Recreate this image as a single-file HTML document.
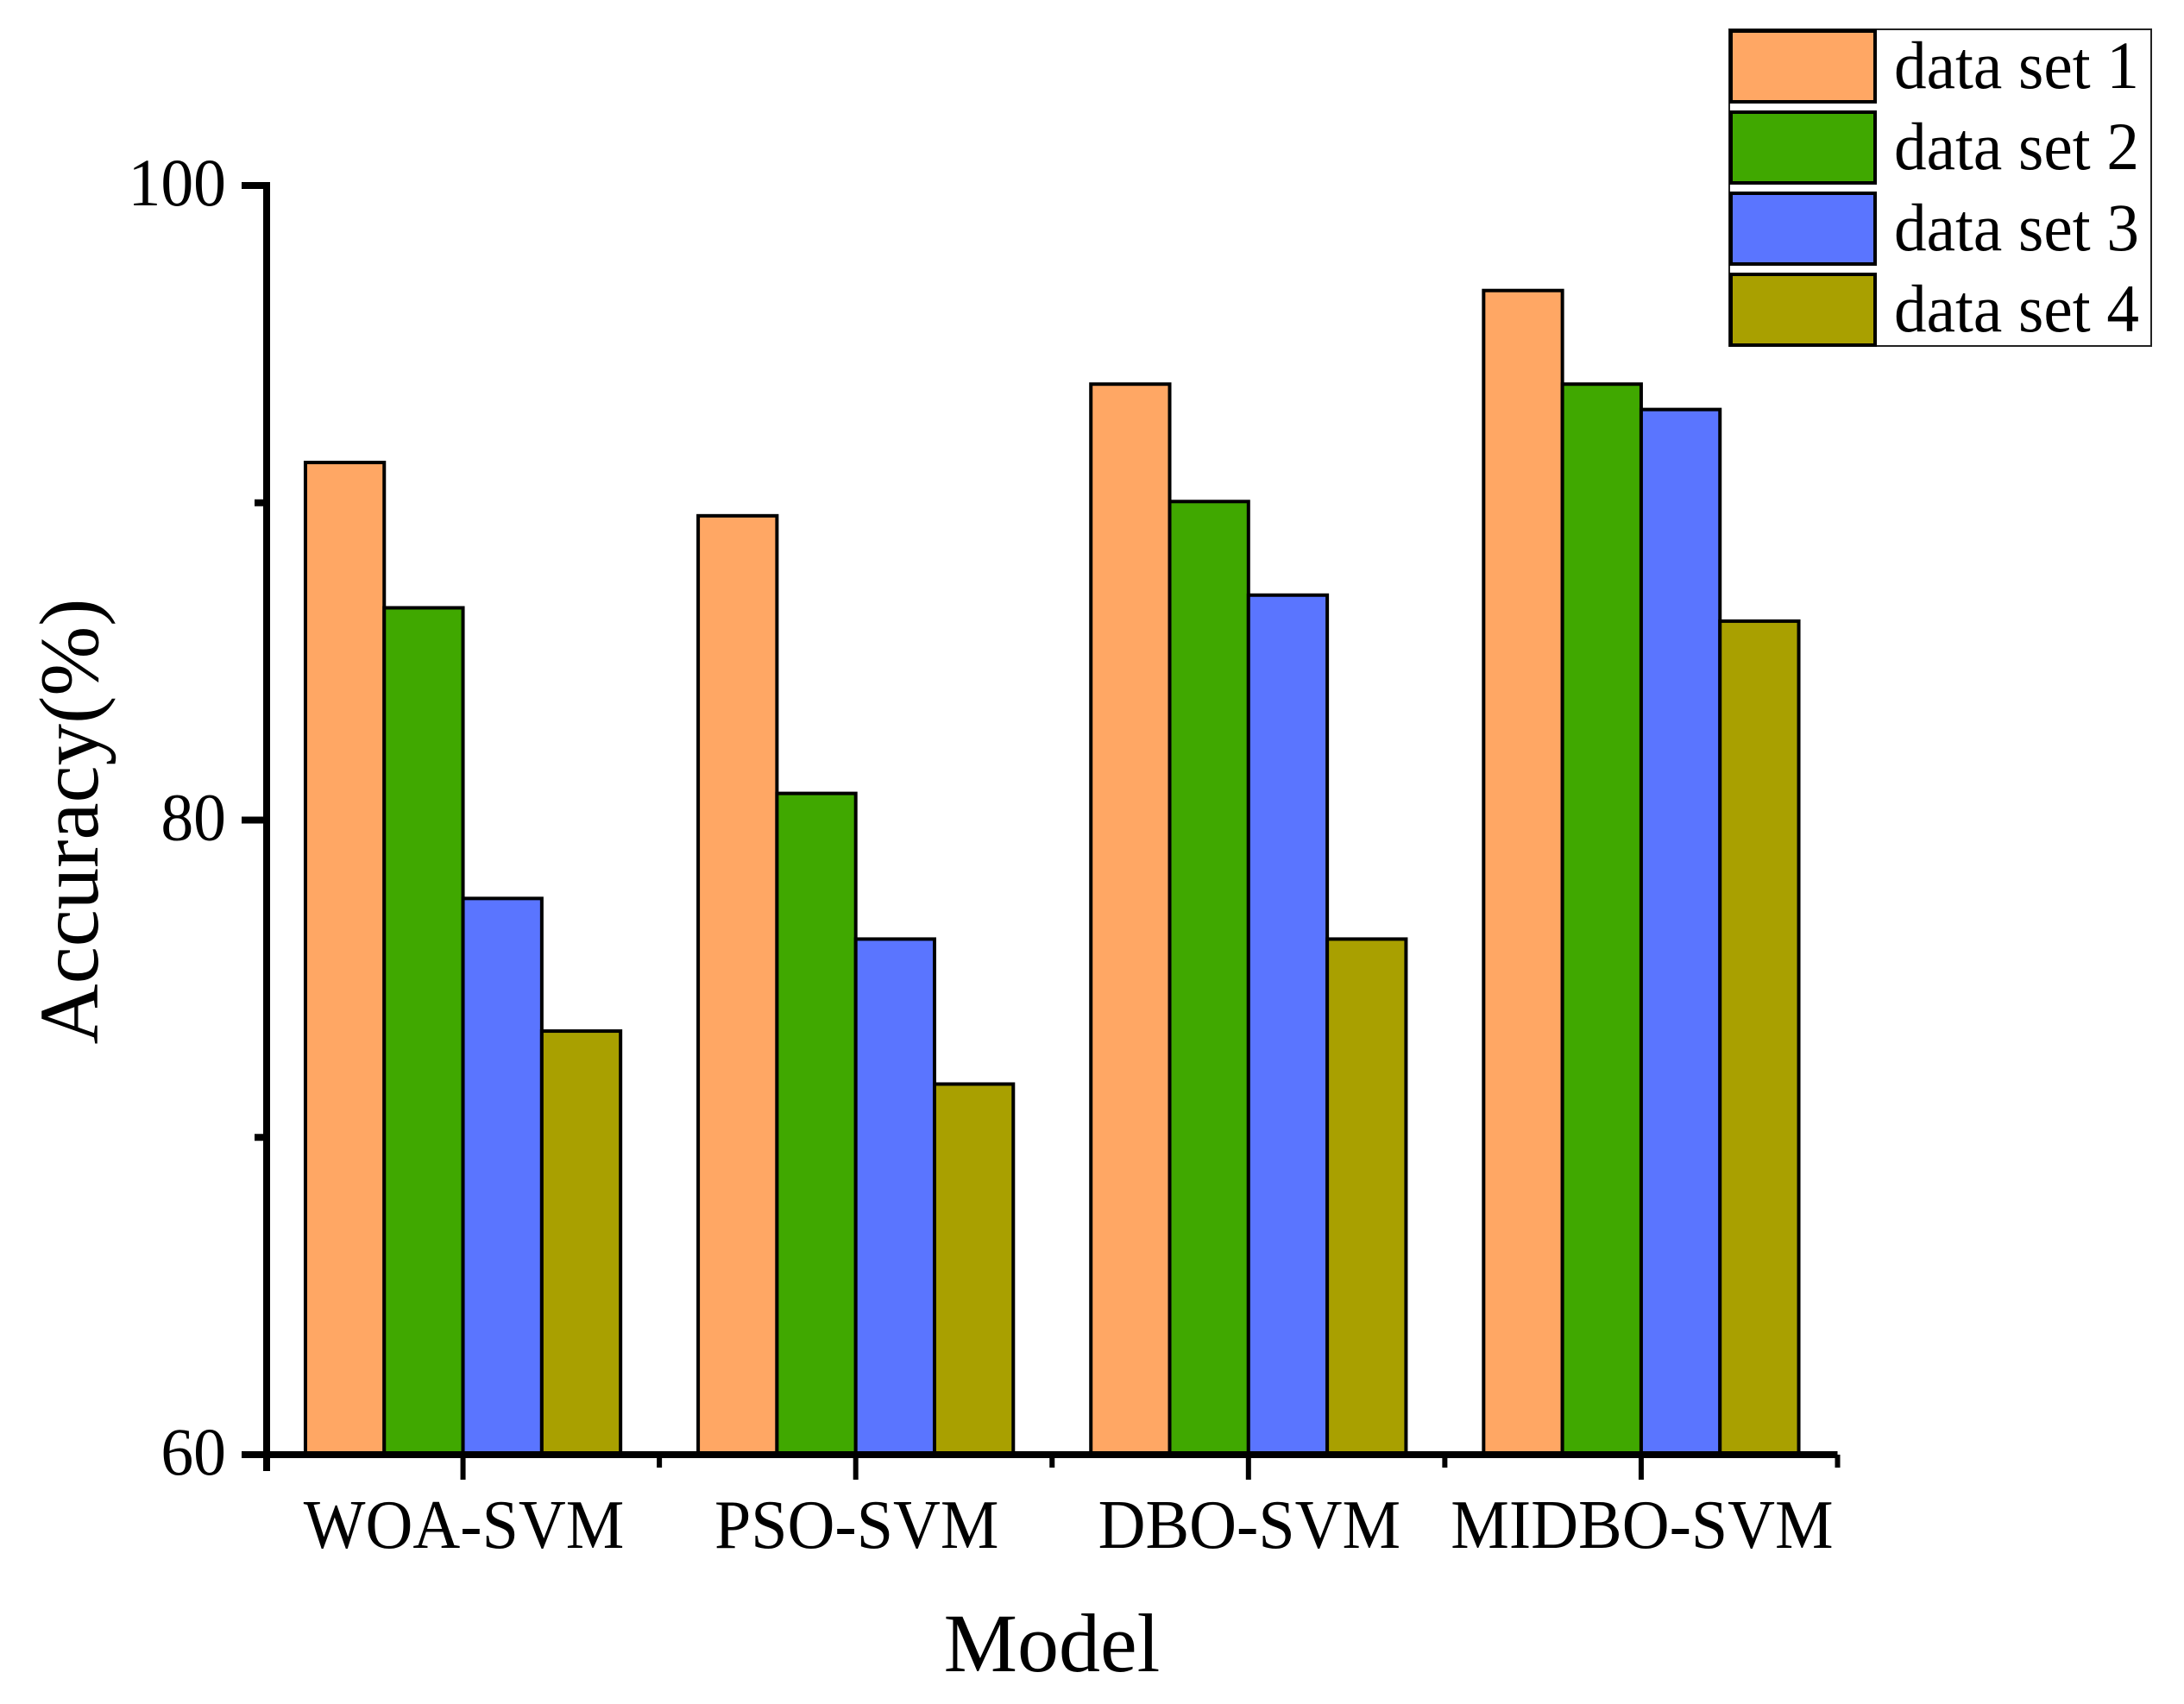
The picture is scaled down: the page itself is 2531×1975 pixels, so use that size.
<!DOCTYPE html>
<html lang="en">
<head>
<meta charset="utf-8">
<title>Accuracy by model</title>
<style>
html,body{margin:0;padding:0;background:#fff;width:2531px;height:1975px;overflow:hidden}
svg{display:block;font-family:"Liberation Serif","Times New Roman",serif;fill:#000}
</style>
</head>
<body>
<svg id="chart" xmlns="http://www.w3.org/2000/svg" width="2531" height="1975" viewBox="0 0 2531 1975"></svg>
<script>
const categories = ['WOA-SVM', 'PSO-SVM', 'DBO-SVM', 'MIDBO-SVM'];
const seriesNames = ['data set 1', 'data set 2', 'data set 3', 'data set 4'];
const dataSet1 = [91.27, 89.59, 93.74, 96.69];
const dataSet2 = [86.69, 80.84, 90.04, 93.74];
const dataSet3 = [77.53, 76.25, 87.09, 92.94];
const dataSet4 = [73.35, 71.68, 76.25, 86.27];
const majorTicks = [60, 80, 100];
const minorTicks = [70, 90];

const seriesValues = [dataSet1, dataSet2, dataSet3, dataSet4];
const colors = ['#FFA764', '#40A800', '#5A75FF', '#A9A000'];
const svg = document.getElementById('chart');
const NS = 'http://www.w3.org/2000/svg';
const plot = {left: 309, right: 2129.5, top: 215, bottom: 1686};
const yMin = 60, yMax = 100;
const yScale = v => plot.bottom - (v - yMin) / (yMax - yMin) * (plot.bottom - plot.top);
const bandW = (plot.right - plot.left) / categories.length;
const barW = 91.3;
const xCenter = i => plot.left + bandW * (i + 0.5);

function make(tag, attrs, text) {
  const el = document.createElementNS(NS, tag);
  for (const k in attrs) el.setAttribute(k, attrs[k]);
  if (text !== undefined) el.textContent = text;
  svg.appendChild(el);
  return el;
}

/* bars */
seriesValues.forEach((vals, s) => {
  vals.forEach((v, c) => {
    const x = xCenter(c) + (s - seriesValues.length / 2) * barW;
    const y = yScale(v);
    const r = make('rect', {x: x, y: y, width: barW, height: plot.bottom - y, fill: colors[s], stroke: '#000', 'stroke-width': 4});
    
    
  });
});

/* y axis */
const yAxis = make('line', {x1: plot.left, x2: plot.left, y1: plot.top - 4, y2: plot.bottom + 19, stroke: '#000', 'stroke-width': 8});


majorTicks.forEach(t => {
  const y = yScale(t);
  const tick = make('line', {x1: plot.left - 29, x2: plot.left, y1: y, y2: y, stroke: '#000', 'stroke-width': 8});
  
  
  const lab = make('text', {'text-anchor': 'end', 'font-size': 78, transform: 'translate(' + (plot.left - 47) + ' ' + (y + 23) + ') scale(0.97 1)'}, String(t));
  
  
});
minorTicks.forEach(t => {
  const y = yScale(t);
  const tick = make('line', {x1: plot.left - 14, x2: plot.left, y1: y, y2: y, stroke: '#000', 'stroke-width': 8});
  
  
});

/* x axis */
const xAxis = make('line', {x1: plot.left - 29, x2: plot.right, y1: plot.bottom, y2: plot.bottom, stroke: '#000', 'stroke-width': 8});


categories.forEach((cat, i) => {
  const x = xCenter(i);
  const tick = make('line', {x1: x, x2: x, y1: plot.bottom, y2: plot.bottom + 29, stroke: '#000', 'stroke-width': 6});
  
  
  const lab = make('text', {'text-anchor': 'middle', 'font-size': 80, transform: 'translate(' + (x + 1) + ' 1794) scale(0.95 1)'}, cat);
  
  
});
for (let i = 1; i <= categories.length; i++) {
  const x = plot.left + bandW * i;
  const tick = make('line', {x1: x, x2: x, y1: plot.bottom, y2: plot.bottom + 15, stroke: '#000', 'stroke-width': 6});
  
  
}

/* axis titles */
const xTitle = make('text', {x: 1219, y: 1937, 'text-anchor': 'middle', 'font-size': 96}, 'Model');


const yTitle = make('text', {x: 0, y: 0, 'text-anchor': 'middle', 'font-size': 97, transform: 'translate(113 952) rotate(-90)'}, 'Accuracy(%)');



/* legend */
const legendBox = make('rect', {x: 2004, y: 34, width: 489, height: 367, fill: '#fff', stroke: '#222', 'stroke-width': 2});


seriesNames.forEach((name, i) => {
  const top = 36 + i * 94;
  const sw = make('rect', {x: 2006, y: top, width: 167, height: 82, fill: colors[i], stroke: '#000', 'stroke-width': 4});
  
  
  const lab = make('text', {x: 2195, y: top + 66, 'font-size': 78, textLength: 284, lengthAdjust: 'spacingAndGlyphs'}, name);
  
  
});
</script>
</body>
</html>
